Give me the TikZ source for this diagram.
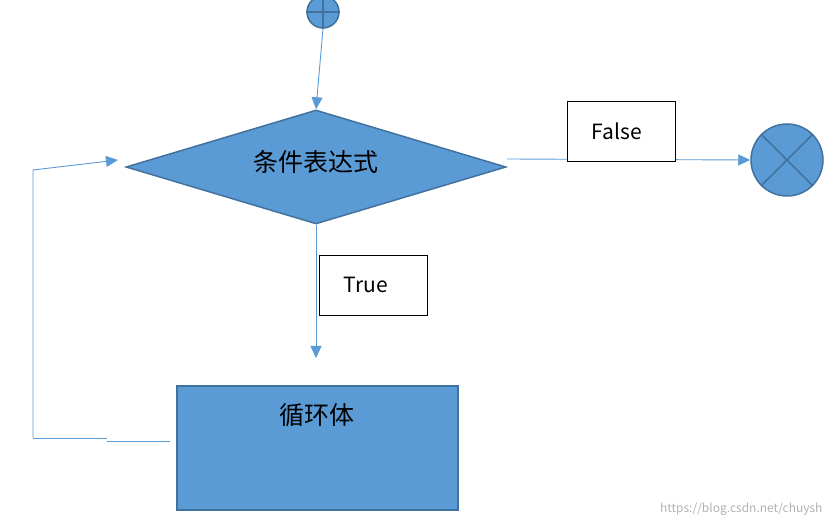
\documentclass[tikz,border=0pt]{standalone}
\usepackage{fontspec}
\setmainfont{Noto Sans CJK SC}
\usetikzlibrary{shapes.geometric,arrows.meta}
\definecolor{fillb}{HTML}{5B9BD5}
\definecolor{edgeb}{HTML}{41719C}
\begin{document}
\begin{tikzpicture}[x=1pt,y=-1pt,
  conn/.style={draw=fillb,line width=0.9pt,-{Triangle[length=12pt,width=11pt]}},
  plain/.style={draw=fillb,line width=0.9pt},
  lbl/.style={draw=black,fill=white,line width=1pt,minimum width=108pt,minimum height=60pt},
  lbltxt/.style={font=\fontsize{21}{23}\selectfont},
  shapeb/.style={fill=fillb,draw=edgeb,line width=1.5pt}]
\useasboundingbox (0,0) rectangle (831,526);
\begin{scope}
\clip (0,0) rectangle (831,526);
\node[shapeb,circle,minimum size=32pt,inner sep=0] (start) at (323,12) {};
\draw[edgeb,line width=1.5pt] (start.north) -- (start.south) (start.west) -- (start.east);
\end{scope}
\node[shapeb,diamond,minimum width=380pt,minimum height=114pt,inner sep=0,aspect=3.33] (cond) at (316,167) {};
\node[font=\fontsize{25}{27}\selectfont] at (316,162) {条件表达式};
\node[shapeb,circle,minimum size=72pt,inner sep=0] (stop) at (787,160) {};
\draw[edgeb,line width=1.5pt] (stop.north west) -- (stop.south east) (stop.north east) -- (stop.south west);
\node[shapeb,rectangle,minimum width=281pt,minimum height=124pt,inner sep=0] (body) at (317.5,448) {};
\node[font=\fontsize{25}{27}\selectfont] at (317,415) {循环体};
\draw[conn] (start.south) -- (cond.north);
\coordinate (fr) at (507,159);
\draw[conn] (fr) -- (stop.west);
\node[lbl] (f) at (621.5,132) {};
\node[lbltxt] at (617,131) {False};
\draw[conn] (cond.south) -- (316,358);
\node[lbl] (t) at (373,286) {};
\node[lbltxt] at (366,285) {True};
\coordinate (b1) at (170,441);
\coordinate (b2) at (33,438);
\coordinate (b3) at (33,170);
\coordinate (b4) at (118,160);
\draw[plain] (b1) -- (107,441);
\draw[plain] (107,438) -- (b2);
\draw[conn] (b2) -- (b3) -- (b4);
\node[text=gray!60,font=\fontsize{12}{14}\selectfont,anchor=east] at (826,509) {https://blog.csdn.net/chuysh};
\end{tikzpicture}
\end{document}
